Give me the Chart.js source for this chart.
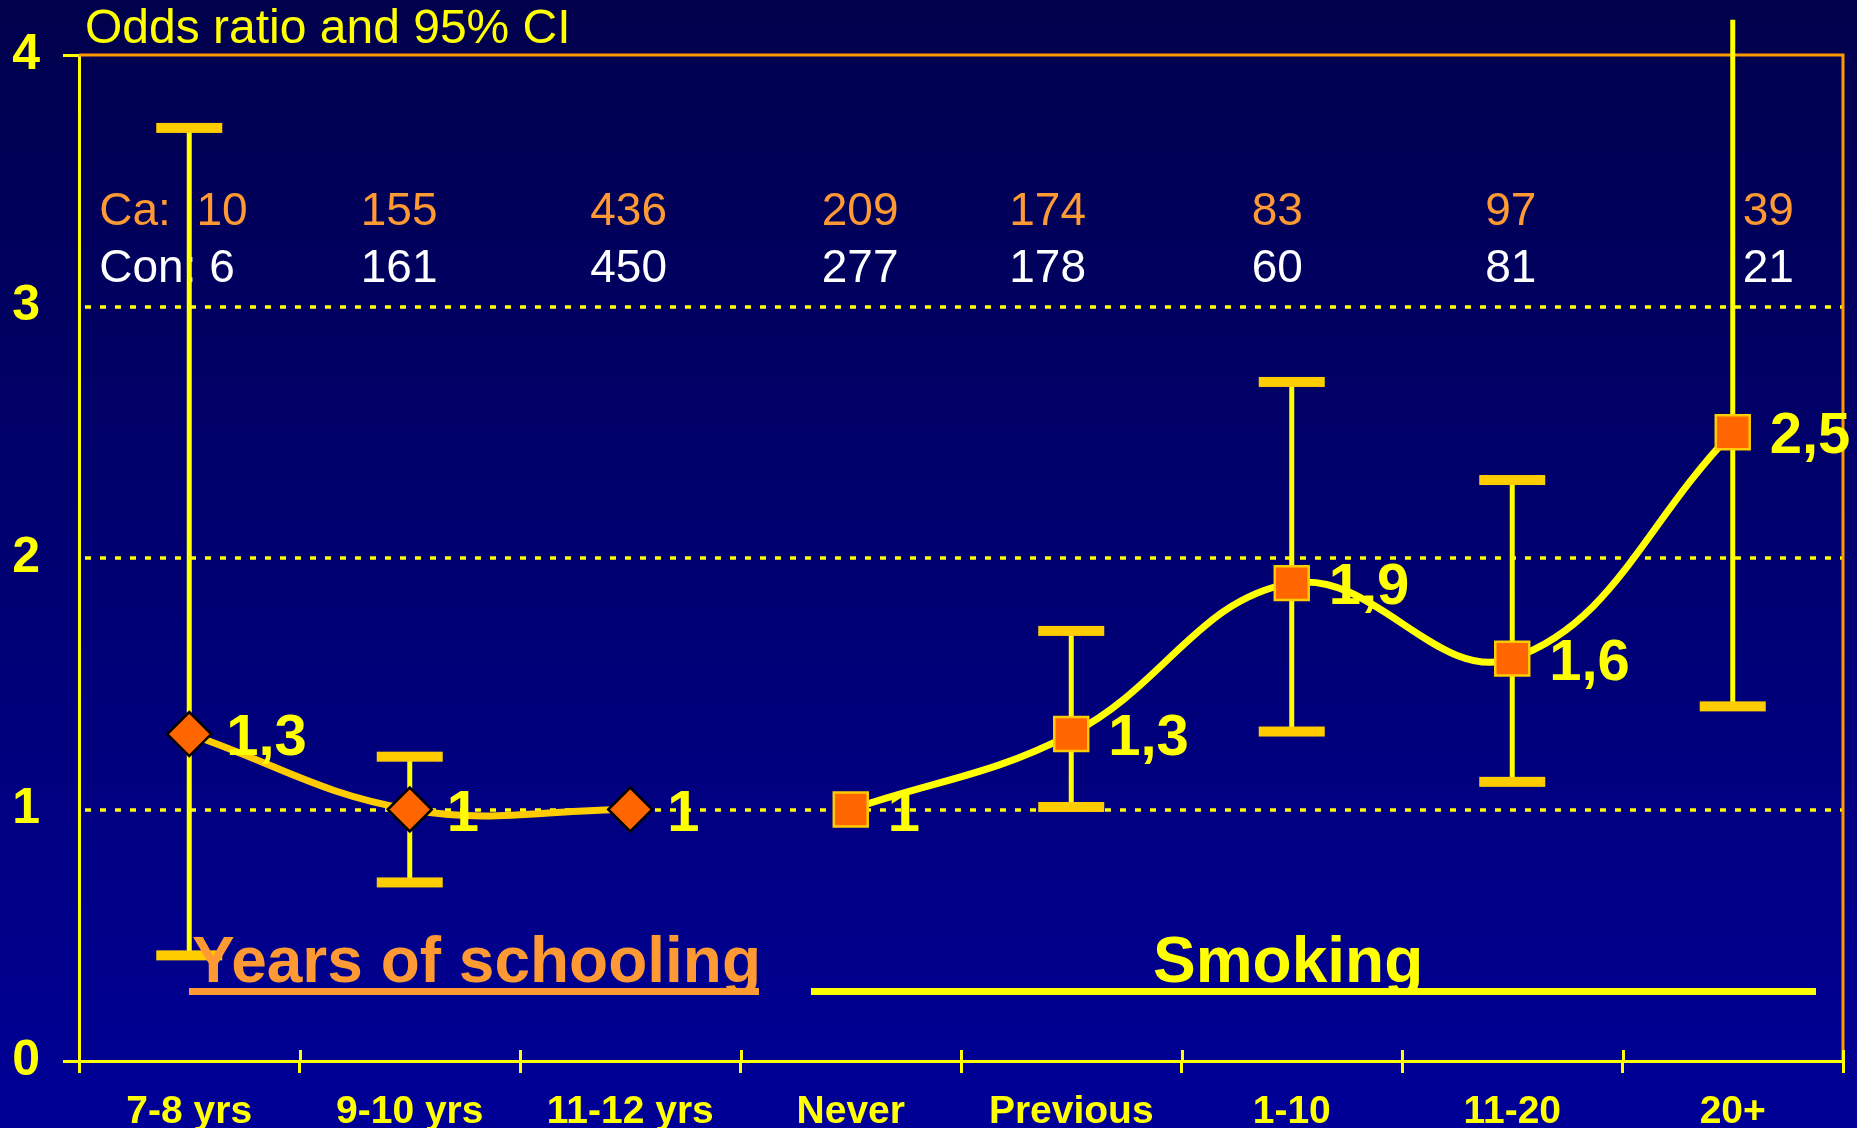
<!DOCTYPE html>
<html>
<head>
<meta charset="utf-8">
<title>Odds ratio and 95% CI</title>
<script src="https://cdn.jsdelivr.net/npm/chart.js@4.4.1/dist/chart.umd.min.js"></script>
<style>
  html, body { margin: 0; padding: 0; overflow: hidden; }
  body { width: 1857px; height: 1128px; background: linear-gradient(#00004c, #000096); }
  canvas { display: block; }
</style>
</head>
<body>
<canvas id="orchart" width="1857" height="1128"></canvas>
<script>
const categories = ['7-8 yrs', '9-10 yrs', '11-12 yrs', 'Never', 'Previous', '1-10', '11-20', '20+'];
const schooling = [1.3, 1, 1, null, null, null, null, null];
const smoking = [null, null, null, 1, 1.3, 1.9, 1.6, 2.5];
const ciLow = [0.42, 0.71, null, null, 1.01, 1.31, 1.11, 1.41];
const ciHigh = [3.71, 1.21, null, null, 1.71, 2.70, 2.31, 4.14];
const caCounts = [10, 155, 436, 209, 174, 83, 97, 39];
const conCounts = [6, 161, 450, 277, 178, 60, 81, 21];
const yTicks = [0, 1, 2, 3, 4];

// start of each Ca / Con column, relative to the category centre
const countShift = [-90, -49, -40, -29, -62, -40, -27, 10];

const FONT = '"Liberation Sans", Arial, sans-serif';
Chart.defaults.font.family = FONT;

const ctx = document.getElementById('orchart');

const decorations = {
    id: 'decorations',
    beforeDatasetsDraw(chart) {
        const c = chart.ctx;
        const a = chart.chartArea;
        const x = chart.scales.x;
        const y = chart.scales.y;
        c.save();

        // dotted grid lines
        c.strokeStyle = '#FFFF00';
        c.lineWidth = 3.5;
        c.setLineDash([6, 9]);
        yTicks.filter(v => v > 0 && v < y.max).forEach(v => {
            const py = Math.round(y.getPixelForValue(v));
            c.beginPath();
            c.moveTo(a.left + 6, py);
            c.lineTo(a.right, py);
            c.stroke();
        });
        c.setLineDash([]);

        // orange frame, top and right
        c.strokeStyle = '#FF9900';
        c.lineWidth = 3;
        c.beginPath();
        c.moveTo(a.left, a.top);
        c.lineTo(a.right, a.top);
        c.lineTo(a.right, a.bottom);
        c.stroke();

        // upper half of the x axis tick crosses
        c.strokeStyle = '#FFFF00';
        c.lineWidth = 3;
        for (let i = 0; i <= categories.length; i++) {
            const px = Math.round(x.getPixelForValue(i - 0.5)) + 0.5;
            c.beginPath();
            c.moveTo(px, a.bottom - 11);
            c.lineTo(px, a.bottom);
            c.stroke();
        }

        // title
        c.fillStyle = '#FFFF00';
        c.font = '48px ' + FONT;
        c.textAlign = 'left';
        c.textBaseline = 'alphabetic';
        c.fillText('Odds ratio and 95% CI', 85, 43);

        // case / control counts
        c.font = '46px ' + FONT;
        categories.forEach((cat, i) => {
            const px = x.getPixelForValue(i) + countShift[i];
            c.fillStyle = '#FF9933';
            c.fillText((i === 0 ? 'Ca:  ' : '') + caCounts[i], px, 225);
            c.fillStyle = '#FFFFFF';
            c.fillText((i === 0 ? 'Con: ' : '') + conCounts[i], px, 282);
        });

        // confidence intervals
        categories.forEach((cat, i) => {
            if (ciLow[i] == null) return;
            const px = x.getPixelForValue(i);
            c.strokeStyle = '#FFFF00';
            c.lineWidth = 5;
            c.beginPath();
            c.moveTo(px, y.getPixelForValue(ciLow[i]));
            c.lineTo(px, y.getPixelForValue(ciHigh[i]));
            c.stroke();
            c.fillStyle = '#FFCC00';
            [ciLow[i], ciHigh[i]].forEach(v => {
                if (v > y.max) return;
                const py = y.getPixelForValue(v);
                c.fillRect(px - 33, py - 5, 66, 10);
            });
        });
        c.restore();
    },
    afterDatasetsDraw(chart) {
        const c = chart.ctx;
        c.save();
        c.fillStyle = '#FFFF00';
        c.font = 'bold 58px ' + FONT;
        c.textAlign = 'left';
        c.textBaseline = 'alphabetic';
        chart.data.datasets.forEach((ds, d) => {
            const meta = chart.getDatasetMeta(d);
            ds.data.forEach((v, i) => {
                if (v == null) return;
                const pt = meta.data[i];
                c.fillText(String(v).replace('.', ','), pt.x + 37, pt.y + 21);
            });
        });

        // group labels
        c.font = 'bold 64px ' + FONT;
        c.fillStyle = '#FF9933';
        c.fillText('Years of schooling', 192, 982);
        c.fillRect(189, 988, 570, 7);
        c.fillStyle = '#FFFF00';
        c.fillRect(811, 988, 1005, 7);
        c.fillText('Smoking', 1153, 982);
        c.restore();
    }
};

new Chart(ctx, {
    type: 'line',
    data: {
        labels: categories,
        datasets: [{
            label: 'Years of schooling',
            data: schooling,
            borderColor: '#FFCC00',
            borderWidth: 7,
            tension: 0.4,
            pointStyle: 'rectRot',
            pointRadius: 22,
            pointBackgroundColor: '#FF6600',
            pointBorderColor: '#000000',
            pointBorderWidth: 2.5
        }, {
            label: 'Smoking',
            data: smoking,
            borderColor: '#FFFF00',
            borderWidth: 7,
            tension: 0.4,
            pointStyle: 'rect',
            pointRadius: 24,
            pointBackgroundColor: '#FF6600',
            pointBorderColor: '#FFCC00',
            pointBorderWidth: 2.5
        }]
    },
    options: {
        responsive: false,
        animation: false,
        devicePixelRatio: 1,
        layout: { autoPadding: false, padding: { top: 55, right: 14, left: 0, bottom: 0 } },
        plugins: { legend: { display: false }, tooltip: { enabled: false } },
        scales: {
            x: {
                offset: true,
                grid: {
                    offset: true,
                    drawOnChartArea: false,
                    drawTicks: true,
                    tickLength: 12,
                    color: '#FFFF00',
                    lineWidth: 3
                },
                border: { color: '#FFFF00', width: 3 },
                ticks: {
                    color: '#FFFF00',
                    font: { size: 39, weight: 'bold' },
                    padding: 16,
                    maxRotation: 0,
                    autoSkip: false
                },
                afterFit: s => { s.height = 67; }
            },
            y: {
                min: 0,
                max: 4,
                afterBuildTicks: s => { s.ticks = yTicks.map(v => ({ value: v })); },
                grid: {
                    drawOnChartArea: false,
                    drawTicks: true,
                    tickLength: 16,
                    color: 'rgba(0,0,0,0)',
                    tickColor: c => (c.tick && (c.tick.value === 0 || c.tick.value === 4)) ? '#FFFF00' : 'rgba(0,0,0,0)',
                    tickWidth: 3
                },
                border: { color: '#FFFF00', width: 3 },
                ticks: {
                    color: '#FFFF00',
                    font: { size: 50, weight: 'bold' },
                    padding: 23
                },
                afterFit: s => { s.width = 79; }
            }
        }
    },
    plugins: [decorations]
});
</script>
</body>
</html>
